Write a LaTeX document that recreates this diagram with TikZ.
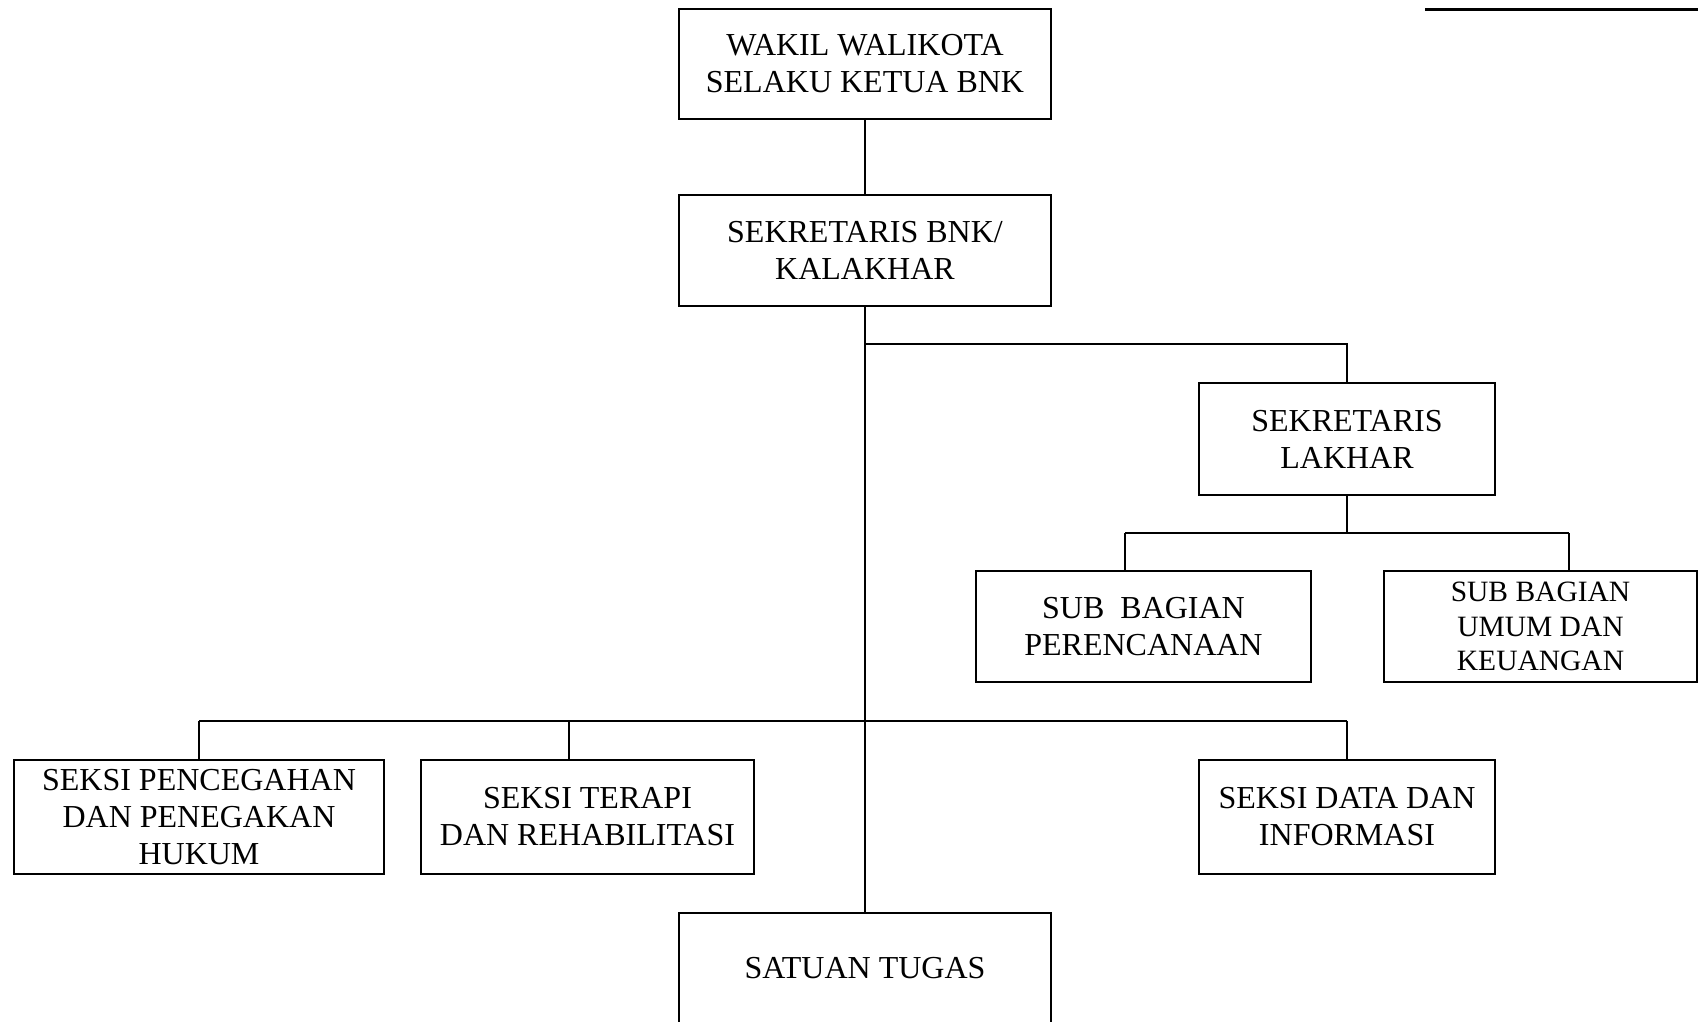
\documentclass[tikz,border=0pt]{standalone}
\usepackage{fontspec}
\setmainfont{Liberation Serif}
\begin{document}
\begin{tikzpicture}[x=1pt,y=-1pt,
  box/.style={draw, line width=2pt, align=center, inner sep=0pt,
    font=\fontsize{32}{37}\selectfont},
  smallbox/.style={box, font=\fontsize{29.5}{34.5}\selectfont},
  link/.style={line width=2pt}]
\useasboundingbox (0,0) rectangle (1698,1021);
\clip (0,0) rectangle (1698,1021);
% header rule (top right)
\coordinate (hl) at (1425,9);
\coordinate (hr) at (1698,9);
\draw[line width=3pt] (hl) -- (hr);
% boxes
\node[box, minimum width=372pt, minimum height=110pt] (wakil) at (865,64)
  {WAKIL WALIKOTA\\SELAKU KETUA BNK};
\node[box, minimum width=372pt, minimum height=111pt] (sekbnk) at (865,250.5)
  {SEKRETARIS BNK/\\KALAKHAR};
\node[box, minimum width=296pt, minimum height=112pt] (lakhar) at (1347,439)
  {SEKRETARIS\\LAKHAR};
\node[box, minimum width=335pt, minimum height=111pt] (perenc) at (1143.5,626.5)
  {SUB\ \ BAGIAN\\PERENCANAAN};
\node[smallbox, minimum width=313pt, minimum height=111pt] (umum) at (1540.5,626.5)
  {SUB BAGIAN\\UMUM DAN\\KEUANGAN};
\node[box, minimum width=370pt, minimum height=114pt] (cegah) at (199,817)
  {SEKSI PENCEGAHAN\\DAN PENEGAKAN\\HUKUM};
\node[box, minimum width=333pt, minimum height=114pt] (terapi) at (587.5,817)
  {SEKSI TERAPI\\DAN REHABILITASI};
\node[box, minimum width=296pt, minimum height=114pt] (data) at (1347,817)
  {SEKSI DATA DAN\\INFORMASI};
\node[box, minimum width=372pt, minimum height=110pt] (satuan) at (865,968)
  {SATUAN TUGAS};
% connectors
\draw[link] (wakil.south) -- (sekbnk.south |- wakil.south) -- (sekbnk.north);
\draw[link] (sekbnk.south) -- (satuan.north);
\coordinate (j1) at (865,344);
\draw[link] (j1) -| (lakhar.north);
\coordinate (j2) at (1347,533);
\draw[link] (lakhar.south) -- (j2);
\coordinate (pl) at (1125,533);
\coordinate (pr) at (1569,533);
\draw[link] (pl) -- (pr);
\draw[link] (pl) -- (pl |- perenc.north);
\draw[link] (pr) -- (pr |- umum.north);
\coordinate (ql) at (199,721);
\coordinate (qr) at (1347,721);
\coordinate (qt) at (569,721);
\draw[link] (ql) -- (qr);
\draw[link] (ql) -- (cegah.north);
\draw[link] (qt) -- (qt |- terapi.north);
\draw[link] (qr) -- (data.north);
\end{tikzpicture}
\end{document}
